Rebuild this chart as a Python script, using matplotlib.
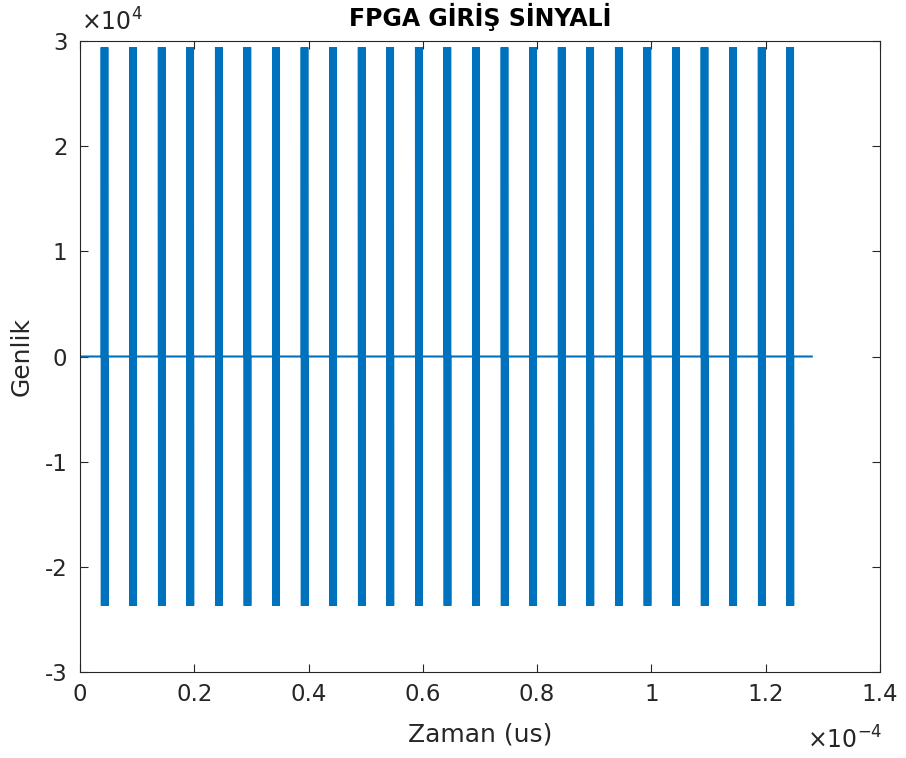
import numpy as np
import matplotlib
matplotlib.use("Agg")
import matplotlib.pyplot as plt

# ---- data ----
burst_centers = [4.3e-6 + 5.0e-6 * k for k in range(25)]  # s
burst_width = 1.0e-6          # s
burst_top = 2.94e4            # peak amplitude
burst_bottom = -2.37e4        # trough amplitude
signal_start = 0.0
signal_end = 1.2805e-4
baseline = 0.0
zig_count = 40                # oscillation turns drawn per burst

x_ticks = [0, 0.2e-4, 0.4e-4, 0.6e-4, 0.8e-4, 1.0e-4, 1.2e-4, 1.4e-4]
x_ticklabels = ["0", "0.2", "0.4", "0.6", "0.8", "1", "1.2", "1.4"]
y_ticks = [-3e4, -2e4, -1e4, 0, 1e4, 2e4, 3e4]
y_ticklabels = ["-3", "-2", "-1", "0", "1", "2", "3"]

# ---- build trace ----
t = [signal_start]
y = [baseline]
for c in burst_centers:
    s = c - burst_width / 2
    e = c + burst_width / 2
    t.append(s); y.append(baseline)
    ts = np.linspace(s, e, zig_count)
    for i, tt in enumerate(ts):
        t.append(tt)
        y.append(burst_top if i % 2 == 0 else burst_bottom)
    t.append(e); y.append(baseline)
t.append(signal_end); y.append(baseline)

color = "#0072BD"
dark = "#262626"

fig = plt.figure(figsize=(9.06, 7.58), dpi=100)
ax = fig.add_axes([80/906, (758-672)/758, 800/906, 631/758])
ax.plot(t, y, color=color, lw=1.5, solid_joinstyle="miter")

ax.set_xlim(0, 1.4e-4)
ax.set_ylim(-3e4, 3e4)
ax.set_xticks(x_ticks)
ax.set_xticklabels(x_ticklabels)
ax.set_yticks(y_ticks)
ax.set_yticklabels(y_ticklabels)
ax.tick_params(direction="in", top=True, right=True, length=6, width=0.8,
               colors=dark, labelsize=16.5)
ax.tick_params(axis="x", pad=8)
ax.tick_params(axis="y", pad=9)
for sp in ax.spines.values():
    sp.set_color(dark)
    sp.set_linewidth(0.8)

ax.set_xlabel("Zaman (us)", fontsize=18, color=dark, labelpad=12)
ax.set_ylabel("Genlik", fontsize=18, color=dark, labelpad=8)
ax.set_title("FPGA GİRİŞ SİNYALİ", fontsize=17, fontweight="bold", color="black", pad=11)

fig.text(81/906, (758-22)/758, r"$\times10^{4}$", fontsize=17, color=dark,
         ha="left", va="center")
fig.text(882/906, (758-740)/758, r"$\times10^{-4}$", fontsize=17, color=dark,
         ha="right", va="center")

fig.savefig("out.png", dpi=100)
